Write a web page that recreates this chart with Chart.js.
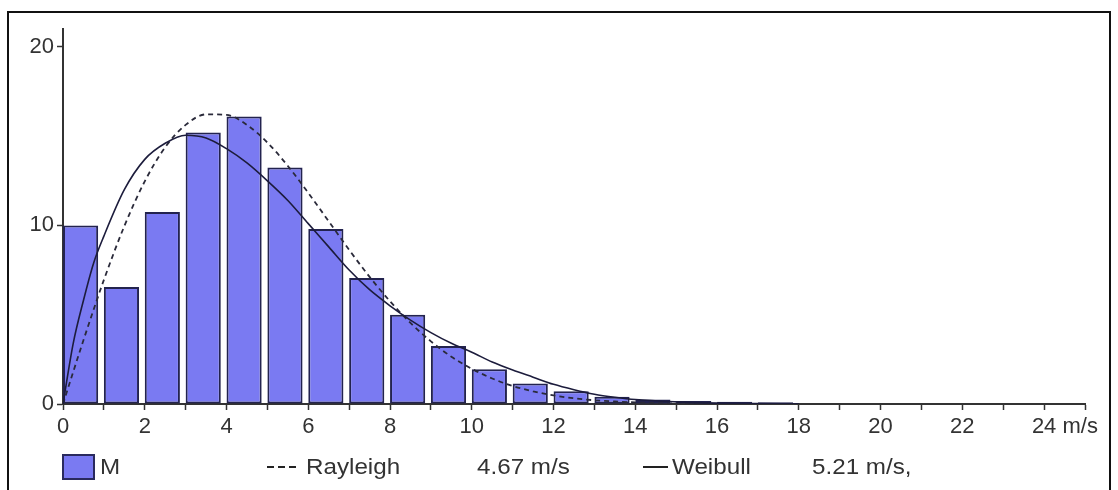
<!DOCTYPE html>
<html>
<head>
<meta charset="utf-8">
<script src="https://cdn.jsdelivr.net/npm/chart.js@4.4.0/dist/chart.umd.min.js"></script>
<style>
    body { margin: 0; background: #fff; width: 1118px; height: 490px; overflow: hidden; position: relative;
           font-family: "Liberation Sans", Arial, sans-serif; color: #333; }
    #frame { position: absolute; left: 7px; top: 11px; width: 1104px; height: 520px; border: 2px solid #111; box-sizing: border-box; }
    #wrap { position: absolute; left: 0; top: 0; width: 1118px; height: 470px; }
    .lg { position: absolute; font-size: 22px; line-height: 26px; top: 454px; white-space: nowrap;
          transform: scaleX(1.1); transform-origin: left center; }
    .box { position: absolute; left: 62px; top: 454px; width: 33px; height: 26px; background: #7a7af2; border: 2px solid #2a2a5e; box-sizing: border-box; }
    .dash { position: absolute; top: 466px; height: 2px; background: repeating-linear-gradient(90deg, #222 0 7px, transparent 7px 11px); }
    .solid { position: absolute; top: 466px; height: 2px; background: #222; }
</style>
</head>
<body>
<div id="frame"></div>
<div id="wrap"><canvas id="main"></canvas></div>

<!-- legend -->
<div class="box"></div>
<div class="lg" style="left:100px">M</div>
<div class="dash" style="left:267px;width:33px"></div>
<div class="lg" style="left:306px">Rayleigh</div>
<div class="lg" style="left:477px">4.67 m/s</div>
<div class="solid" style="left:643px;width:25px"></div>
<div class="lg" style="left:672px">Weibull</div>
<div class="lg" style="left:812px">5.21 m/s,</div>

<script>
// Histogram bins (m/s) and frequency (%)
let binStart = [0, 1, 2, 3, 4, 5, 6, 7, 8, 9, 10, 11, 12, 13, 14, 15, 16, 17]
let freq = [10.0, 6.55, 10.75, 15.2, 16.1, 13.25, 9.8, 7.05, 5.0, 3.25, 1.95, 1.15, 0.72, 0.4, 0.25, 0.17, 0.12, 0.1]

// Fitted curves
let speedGrid = [0, 0.25, 0.5, 0.75, 1, 1.5, 2, 2.5, 3, 3.5, 4, 4.5, 5, 5.5, 6, 6.5, 7, 7.5, 8, 8.5, 9, 9.5,
                 10, 10.5, 11, 11.5, 12, 12.5, 13, 13.5, 14, 15, 16, 17, 18]
let rayleigh = [0, 1.8, 3.57, 5.29, 6.95, 9.96, 12.47, 14.38, 15.63, 16.22, 16.19, 15.63, 14.64, 13.33, 11.82, 10.23,
                8.63, 7.12, 5.75, 4.54, 3.51, 2.65, 1.97, 1.43, 1.01, 0.71, 0.48, 0.32, 0.21, 0.14, 0.09, 0.03, 0.01, 0, 0]
let weibull = [0, 3.4, 5.8, 7.9, 9.4, 12.0, 13.7, 14.6, 15.05, 14.9, 14.3, 13.5, 12.5, 11.4, 10.1, 8.8,
               7.5, 6.4, 5.5, 4.7, 4.0, 3.4, 2.9, 2.35, 1.9, 1.5, 1.1, 0.8, 0.55, 0.38, 0.25, 0.12, 0.05, 0.02, 0]

// Axis ticks
let xTicks = [0, 1, 2, 3, 4, 5, 6, 7, 8, 9, 10, 11, 12, 13, 14, 15, 16, 17, 18, 19, 20, 21, 22, 23, 24, 25]
let xLabels = [0, 2, 4, 6, 8, 10, 12, 14, 16, 18, 20, 22, 24]
let yTicks = [0, 10, 20]

const BAR_FRAC = 0.86
const axisColor = '#333'
const fontSize = 22

// draws the unit after the last x label
const unitLabel = {
    id: 'unitLabel',
    afterDraw(chart) {
        let xs = chart.scales.x
        let item = xs.getLabelItems().find(function(it){ return it.label === '24' })
        if(!item) return
        let ctx = chart.ctx
        ctx.save()
        ctx.font = item.font.string
        ctx.fillStyle = axisColor
        ctx.textAlign = 'left'
        ctx.textBaseline = item.options.textBaseline
        let tx = item.options.translation[0]
        let ty = item.options.translation[1]
        ctx.fillText(' m/s', tx + ctx.measureText('24').width / 2, ty + item.textOffset)
        ctx.restore()
    }
}

function makeChart() {
    let barData = binStart.map(function(b, i){
        return { x: b + BAR_FRAC / 2, y: freq[i] }
    })
    let rayData = speedGrid.map(function(s, i){
        return { x: s, y: rayleigh[i] }
    })
    let weiData = speedGrid.map(function(s, i){
        return { x: s, y: weibull[i] }
    })

    new Chart('main', {
        data: {
            datasets: [
                {
                    type: 'line',
                    label: 'Weibull',
                    data: weiData,
                    borderColor: '#1c1c3c',
                    borderWidth: 1.6,
                    pointRadius: 0,
                    cubicInterpolationMode: 'monotone',
                    order: 1
                },
                {
                    type: 'line',
                    label: 'Rayleigh',
                    data: rayData,
                    borderColor: '#2a2a3a',
                    borderWidth: 1.8,
                    borderDash: [5, 4],
                    pointRadius: 0,
                    cubicInterpolationMode: 'monotone',
                    order: 1
                },
                {
                    type: 'bar',
                    label: 'M',
                    data: barData,
                    backgroundColor: '#7a7af2',
                    borderColor: '#23234f',
                    borderWidth: 2,
                    borderSkipped: false,
                    barPercentage: 1,
                    categoryPercentage: BAR_FRAC,
                    order: 2
                }
            ]
        },
        options: {
            responsive: true,
            maintainAspectRatio: false,
            animation: false,
            layout: { padding: { top: 29, right: 33, left: 0, bottom: 0 } },
            scales: {
                x: {
                    type: 'linear',
                    min: 0,
                    max: 25,
                    offset: false,
                    afterBuildTicks: function(s){ s.ticks = xTicks.map(function(v){ return { value: v } }) },
                    afterFit: function(s){ s.height = 66 },
                    ticks: {
                        autoSkip: false,
                        maxRotation: 0,
                        padding: 4,
                        color: axisColor,
                        font: { family: '"Liberation Sans", Arial, sans-serif', size: fontSize },
                        callback: function(v){ return xLabels.includes(v) ? String(v) : '' }
                    },
                    grid: { offset: false, drawOnChartArea: false, drawTicks: true, tickLength: 6, tickColor: axisColor, tickWidth: 1.5 },
                    border: { display: true, color: axisColor, width: 2 }
                },
                y: {
                    min: 0,
                    max: 21,
                    afterBuildTicks: function(s){ s.ticks = yTicks.map(function(v){ return { value: v } }) },
                    afterFit: function(s){ s.width = 63 },
                    ticks: {
                        padding: 3,
                        color: axisColor,
                        font: { family: '"Liberation Sans", Arial, sans-serif', size: fontSize }
                    },
                    grid: { drawOnChartArea: false, drawTicks: true, tickLength: 6, tickColor: axisColor, tickWidth: 1.5 },
                    border: { display: true, color: axisColor, width: 2 }
                }
            },
            plugins: {
                legend: { display: false },
                tooltip: { enabled: false }
            }
        },
        plugins: [unitLabel]
    })
}

makeChart()
</script>
</body>
</html>
